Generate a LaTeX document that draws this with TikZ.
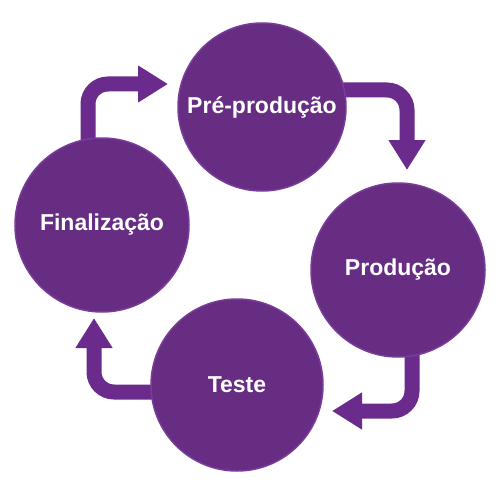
\documentclass[tikz,border=0pt]{standalone}
\usepackage{fontspec}
\setmainfont{Liberation Sans}
\usetikzlibrary{arrows.meta}
\pgfdeclarelayer{background}
\pgfsetlayers{background,main}
\definecolor{circfill}{HTML}{662D83}
\definecolor{circrim}{HTML}{7A3C9A}
\definecolor{arrcol}{HTML}{6A2B8C}
\tikzset{
  stage/.style={circle, fill=circfill, draw=circrim, line width=1.5pt,
    minimum size=#1, inner sep=0pt, text=white,
    font=\fontsize{23}{26}\selectfont\bfseries},
  flow/.style={draw=arrcol, line width=15pt, rounded corners=20pt,
    -{Triangle[length=30pt 0 0, width=35pt 0 0]}}
}
\begin{document}
\begin{tikzpicture}[x=1pt,y=-1pt]
\useasboundingbox (0,0) rectangle (500,500);
\node[stage=168pt] (pre) at (262,107) {Pré-produção};
\node[stage=174pt] (fin) at (102,225) {Finalização};
\node[stage=174pt] (prod) at (398,270) {Produção};
\node[stage=172pt] (teste) at (237,385) {Teste};
\coordinate (t1) at (168,84);
\coordinate (t2) at (407,170);
\coordinate (t3) at (332,411);
\coordinate (t4) at (94,318);
\begin{pgfonlayer}{background}
\fill[white] (0,0) rectangle (500,500);
\draw[flow] (fin.center) ++(-14,-60) |- (t1);
\draw[flow] (pre.center) ++(60,-17) -| (t2);
\draw[flow] (prod.center) ++(14,60) |- (t3);
\draw[flow] (teste.center) ++(-60,7) -| (t4);
\end{pgfonlayer}
\end{tikzpicture}
\end{document}
